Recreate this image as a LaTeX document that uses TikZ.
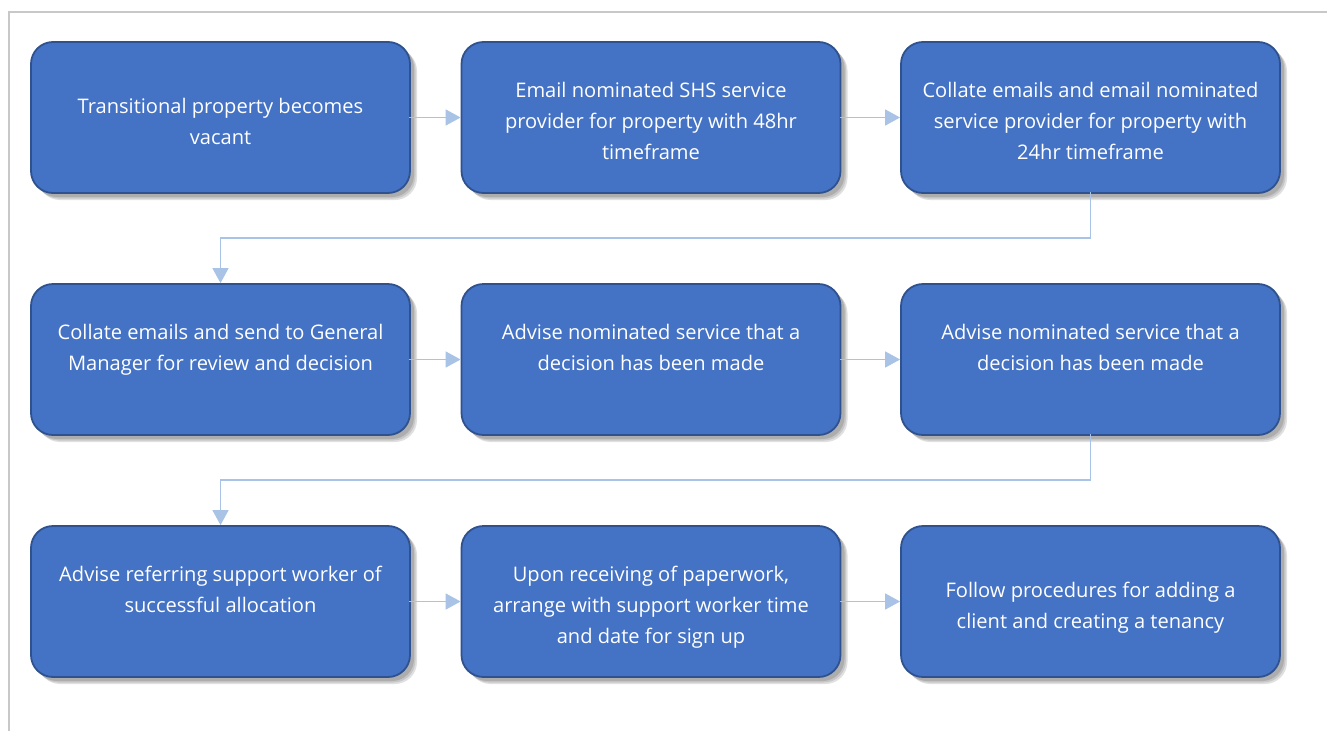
\documentclass[tikz,border=0pt]{standalone}
\usepackage{fontspec}
\setmainfont{Open Sans}
\usetikzlibrary{arrows.meta,shadows}
\definecolor{boxfill}{HTML}{4472C4}
\definecolor{boxline}{HTML}{2F528F}
\definecolor{conn}{HTML}{A9C3E6}
\definecolor{frame}{HTML}{C8C8C8}
\newcommand\btext[1]{\raisebox{-5pt}[\height][\depth]{\begin{tabular}{@{}c@{}}#1\end{tabular}}}
\tikzset{
  stepbox/.style={draw=boxline, line width=1.8pt, fill=boxfill, rounded corners=22pt,
    minimum width=379pt, minimum height=151pt, inner sep=0pt,
    text=white, font=\fontsize{20.1}{30.8}\selectfont,
    general shadow={fill=black!12, shadow xshift=7pt, shadow yshift=-7pt},
    general shadow={fill=black!22, shadow xshift=5.5pt, shadow yshift=-5.5pt},
    general shadow={fill=black!32, shadow xshift=4pt, shadow yshift=-4pt}},
  link/.style={draw=conn, line width=1.5pt, shorten <=-1.5pt, -{Triangle[length=15pt,width=16pt]}}
}
\begin{document}
\begin{tikzpicture}[x=1pt,y=-1pt]
\useasboundingbox (0,0) rectangle (1327,731);
\fill[white] (0,0) rectangle (1327,731);
\draw[frame, line width=2pt] (8.5,731) -- (8.5,12) -- (1327,12);
% row 1
\node[stepbox] (a) at (220.5,117.5) {\btext{Transitional property becomes\\vacant}};
\node[stepbox] (b) at (651,117.5) {\btext{Email nominated SHS service\\provider for property with 48hr\\timeframe}};
\node[stepbox] (c) at (1090.5,117.5) {\btext{Collate emails and email nominated\\service provider for property with\\24hr timeframe}};
% row 2
\node[stepbox] (d) at (220.5,359.5) {\btext{Collate emails and send to General\\Manager for review and decision\\\mbox{}}};
\node[stepbox] (e) at (651,359.5) {\btext{Advise nominated service that a\\decision has been made\\\mbox{}}};
\node[stepbox] (f) at (1090.5,359.5) {\btext{Advise nominated service that a\\decision has been made\\\mbox{}}};
% row 3
\node[stepbox] (g) at (220.5,601.5) {\btext{Advise referring support worker of\\successful allocation\\\mbox{}}};
\node[stepbox] (h) at (651,601.5) {\btext{Upon receiving of paperwork,\\arrange with support worker time\\and date for sign up}};
\node[stepbox] (i) at (1090.5,601.5) {\btext{Follow procedures for adding a\\client and creating a tenancy}};
% connectors
\coordinate (k1) at (1090.5,238);
\coordinate (k2) at (220.5,238);
\coordinate (k3) at (1090.5,480);
\coordinate (k4) at (220.5,480);
\draw[link] (a) -- (b);
\draw[link] (b) -- (c);
\draw[link] (c.south) -- (k1) -- (k2) -- (d.north);
\draw[link] (d) -- (e);
\draw[link] (e) -- (f);
\draw[link] (f.south) -- (k3) -- (k4) -- (g.north);
\draw[link] (g) -- (h);
\draw[link] (h) -- (i);
\end{tikzpicture}
\end{document}
